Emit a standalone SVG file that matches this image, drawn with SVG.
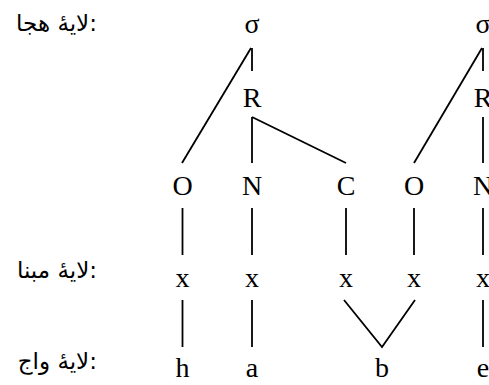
<svg xmlns="http://www.w3.org/2000/svg" width="489" height="385" viewBox="0 0 489 385">
<style>
.t{font-family:"Liberation Serif","Times New Roman",serif;font-size:28px;fill:#000;text-anchor:middle}
.l{font-family:"DejaVu Sans","Noto Sans",sans-serif;font-size:23px;fill:#000;text-anchor:end}
.c line,.c polyline{stroke:#000;stroke-width:1.8;fill:none}
</style>
<rect width="489" height="385" fill="#fff"/>
<g id="labels">
<text class="l" x="97" y="31">لایهٔ هجا:</text>
<text class="l" x="97" y="278">لایهٔ مبنا:</text>
<text class="l" x="97" y="369">لایهٔ واج:</text>
</g>
<g class="c" id="connectors">
<line x1="252" y1="48" x2="252" y2="71"/>
<line x1="251" y1="48" x2="182" y2="163"/>
<line x1="252" y1="117" x2="252" y2="163"/>
<line x1="252" y1="117" x2="346" y2="163"/>
<line x1="483" y1="48" x2="483" y2="71"/>
<line x1="482" y1="48" x2="414" y2="163"/>
<line x1="483" y1="117" x2="483" y2="163"/>
<line x1="182.5" y1="208" x2="182.5" y2="255"/>
<line x1="252" y1="208" x2="252" y2="255"/>
<line x1="346" y1="208" x2="346" y2="255"/>
<line x1="414" y1="208" x2="414" y2="255"/>
<line x1="483" y1="208" x2="483" y2="255"/>
<line x1="182.5" y1="300" x2="182.5" y2="347"/>
<line x1="252" y1="300" x2="252" y2="347"/>
<polyline points="344,300 382,347 415,300"/>
<line x1="483" y1="300" x2="483" y2="347"/>
</g>
<g id="sigma1"><text class="t" x="252" y="33">σ</text></g>
<g id="R1"><text class="t" x="252" y="107">R</text></g>
<g id="O1"><text class="t" x="182.5" y="195">O</text></g>
<g id="N1"><text class="t" x="252" y="195">N</text></g>
<g id="C1"><text class="t" x="346" y="195">C</text></g>
<g id="sigma2"><text class="t" x="483" y="33">σ</text></g>
<g id="R2"><text class="t" x="483" y="107">R</text></g>
<g id="O2"><text class="t" x="414" y="195">O</text></g>
<g id="N2"><text class="t" x="483" y="195">N</text></g>
<g id="x1"><text class="t" x="182.5" y="287">x</text></g>
<g id="x2"><text class="t" x="252" y="287">x</text></g>
<g id="x3"><text class="t" x="346" y="287">x</text></g>
<g id="x4"><text class="t" x="414" y="287">x</text></g>
<g id="x5"><text class="t" x="483" y="287">x</text></g>
<g id="h"><text class="t" x="182.5" y="377">h</text></g>
<g id="a"><text class="t" x="252" y="377">a</text></g>
<g id="b"><text class="t" x="382" y="377">b</text></g>
<g id="e"><text class="t" x="483" y="377">e</text></g>
</svg>
